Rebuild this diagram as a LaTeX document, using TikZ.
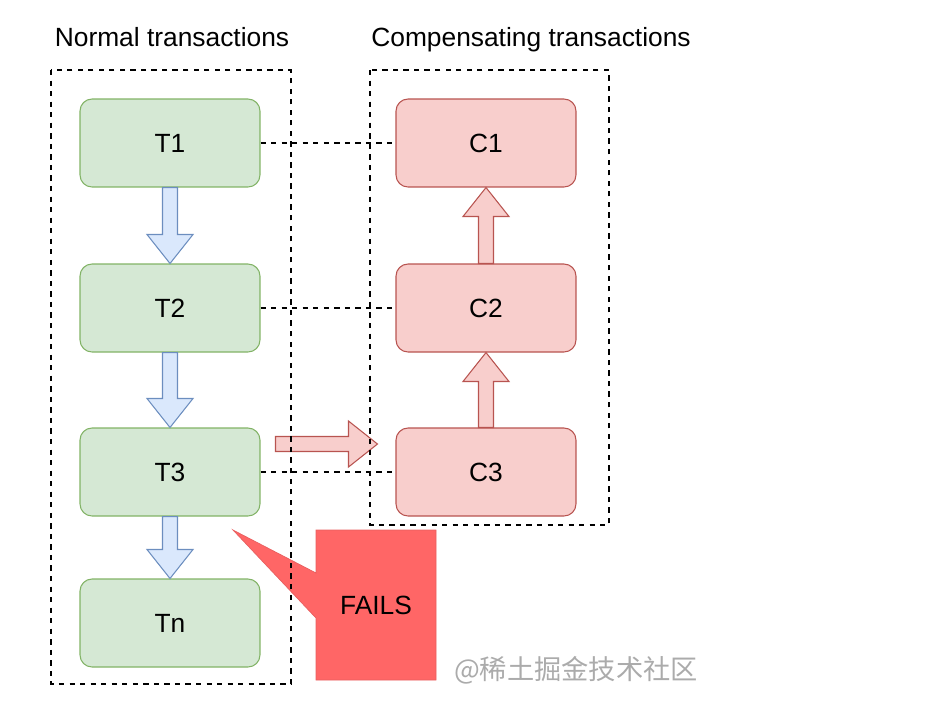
\documentclass[tikz,border=0pt]{standalone}
\usepackage{fontspec}
\setmainfont{Liberation Sans}
\newfontfamily\cjk{Noto Sans CJK SC}
\usetikzlibrary{calc}

\definecolor{tfill}{HTML}{D5E8D4}
\definecolor{tline}{HTML}{82B366}
\definecolor{cfill}{HTML}{F8CECC}
\definecolor{cline}{HTML}{B85450}
\definecolor{afill}{HTML}{DAE8FC}
\definecolor{aline}{HTML}{6C8EBF}
\definecolor{failfill}{HTML}{FF6666}
\definecolor{failline}{HTML}{E85F5F}
\definecolor{markgray}{HTML}{ABABAB}

% block arrow: style, from, to
\newcommand{\blockarrow}[3]{%
  \coordinate (ba-h) at ($(#3)!0.58cm!(#2)$);
  \draw[#1] ($(#2)!0.15cm!90:(#3)$) -- ($(ba-h)!0.15cm!-90:(#2)$)
    -- ($(ba-h)!0.46cm!-90:(#2)$) -- (#3) -- ($(ba-h)!0.46cm!90:(#2)$)
    -- ($(ba-h)!0.15cm!90:(#2)$) -- ($(#2)!0.15cm!-90:(#3)$) -- cycle;
}

\begin{document}
\begin{tikzpicture}[x=0.02cm,y=-0.02cm,
  font=\fontsize{15}{18}\selectfont,
  tbox/.style={draw=tline,fill=tfill,rounded corners=0.24cm,line width=0.6pt,
    minimum width=3.6cm,minimum height=1.76cm},
  cbox/.style={tbox,draw=cline,fill=cfill},
  group/.style={draw,dashed,line width=0.6pt},
  fwd/.style={draw=aline,fill=afill,line width=0.6pt},
  back/.style={draw=cline,fill=cfill,line width=0.6pt}]
  \useasboundingbox (0,0) rectangle (944,708);

  % titles
  \node[anchor=base] (ntitle) at (172,46) {Normal transactions};
  \node[anchor=base] (ctitle) at (531,46) {Compensating transactions};

  % normal transactions
  \node[tbox] (t1) at (170,143) {T1};
  \node[tbox] (t2) at (170,308) {T2};
  \node[tbox] (t3) at (170,472) {T3};
  \node[tbox] (tn) at (170,623) {Tn};

  % compensating transactions
  \node[cbox] (c1) at (486,143) {C1};
  \node[cbox] (c2) at (486,308) {C2};
  \node[cbox] (c3) at (486,472) {C3};

  \blockarrow{fwd}{t1.south}{t2.north}
  \blockarrow{fwd}{t2.south}{t3.north}
  \blockarrow{fwd}{t3.south}{tn.north}
  \blockarrow{back}{c3.north}{c2.south}
  \blockarrow{back}{c2.north}{c1.south}

  \coordinate (rb-s) at ($(t3.east)+(0.3cm,0.56cm)$);
  \coordinate (rb-e) at ($(c3.west)+(-0.36cm,0.56cm)$);
  \blockarrow{back}{rb-s}{rb-e}

  % failure callout
  \coordinate (tip) at (233,530);
  \fill[failfill,draw=failline,line width=0.4pt] (316,530) -- (436,530) -- (436,680) -- (316,680)
    -- (316,618) -- (tip) -- (316,573) -- cycle;
  \node (fails) at (376,605) {FAILS};

  \draw[dashed,line width=0.6pt] (t1) -- (c1);
  \draw[dashed,line width=0.6pt] (t2) -- (c2);
  \draw[dashed,line width=0.6pt] (t3) -- (c3);

  \draw[group] (51,70) rectangle (291,684);
  \draw[group] (370,70) rectangle (609,525);

  \node[text=markgray,font=\cjk\fontsize{15.5}{18}\selectfont] (mark) at (576,670) {@稀土掘金技术社区};
\end{tikzpicture}
\end{document}
